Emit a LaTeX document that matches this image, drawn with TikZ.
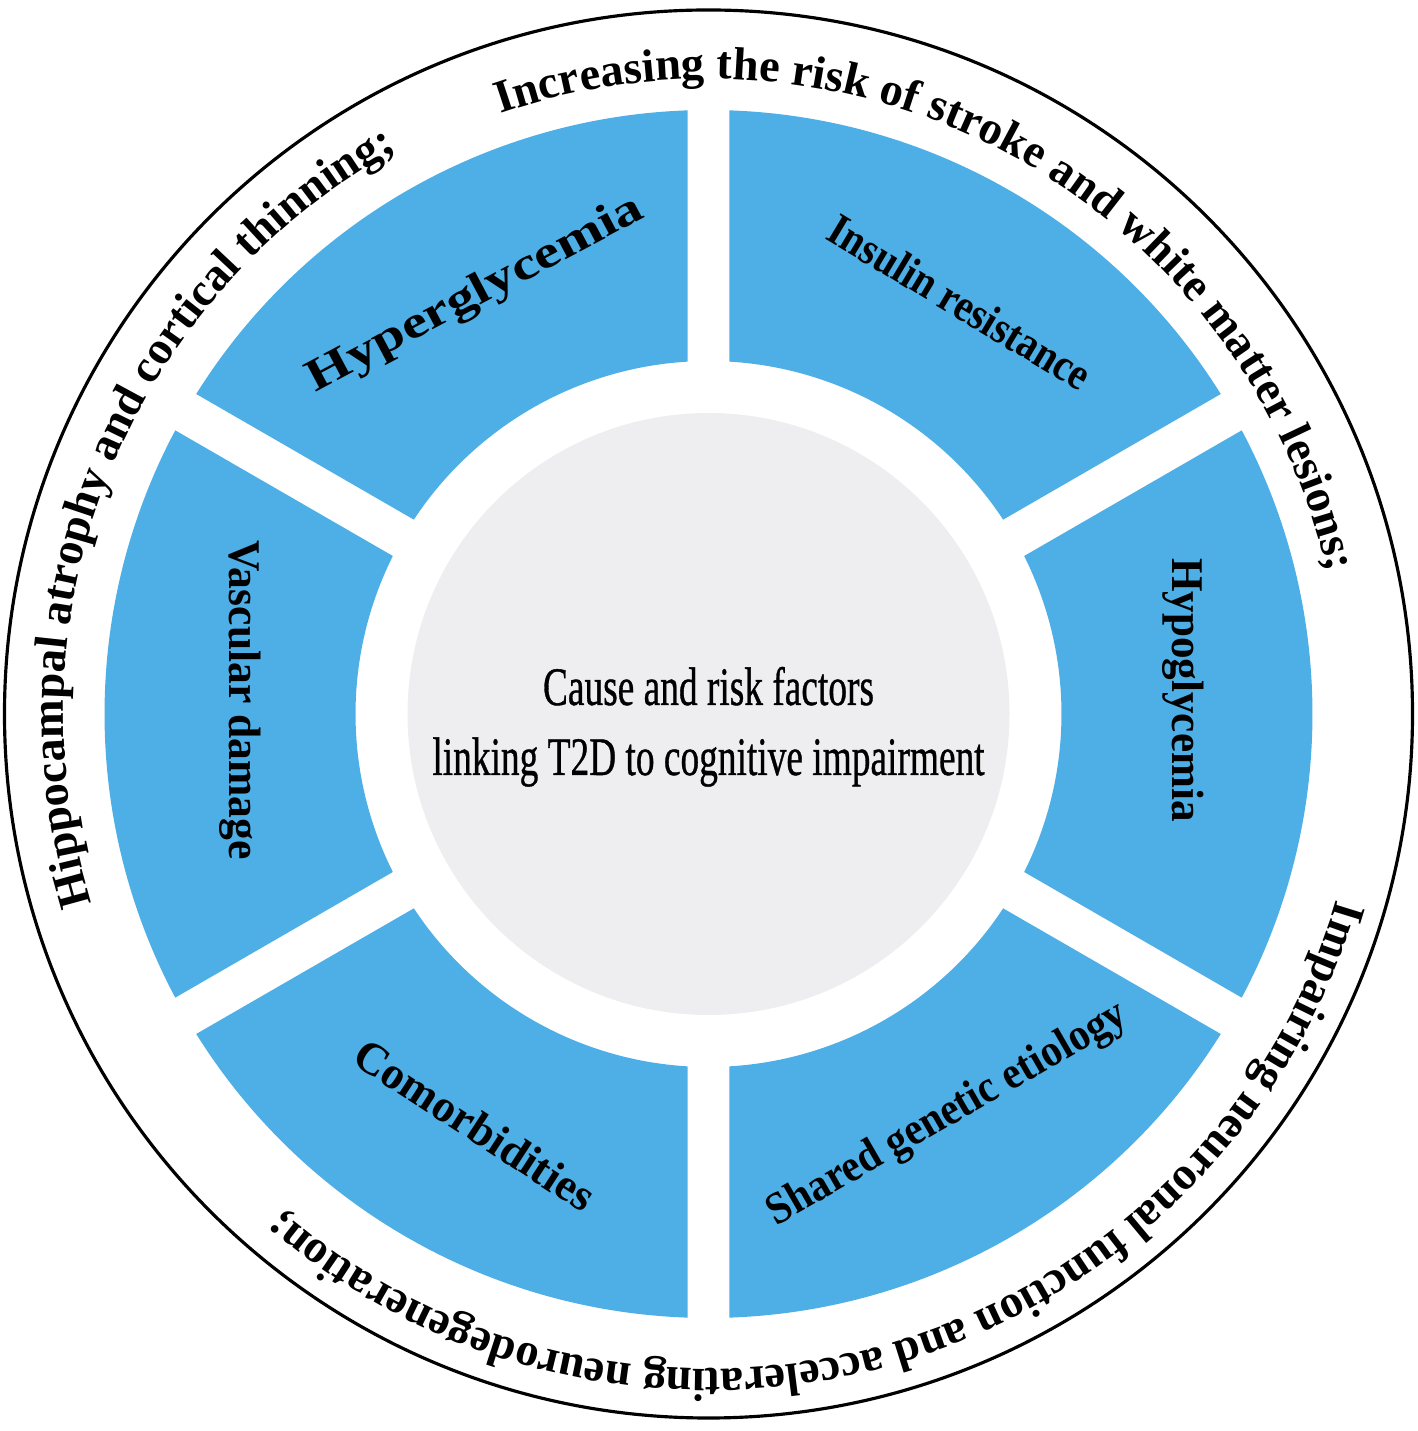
\documentclass[tikz,border=0pt]{standalone}
\usepackage{fontspec}
\setmainfont{Liberation Serif}
\newfontfamily\ctrfont{Liberation Serif}[FakeBold=0.8]
\usetikzlibrary{decorations.text}
\definecolor{segblue}{RGB}{77,175,230}
\definecolor{coregray}{RGB}{238,238,240}
\newcommand\arcfont{\fontsize{13.2}{15}\selectfont\bfseries}
\begin{document}
\begin{tikzpicture}[x=0.01cm,y=0.01cm,
  seg/.style={fill=segblue},
  lab/.style={font=\bfseries\fontsize{12.9}{15}\selectfont, inner sep=0pt},
  ctext/.style={font=\ctrfont\fontsize{15.4}{18}\selectfont, inner sep=0pt},
  arctext/.style={decorate, decoration={text along path, text align=center, text={|\arcfont|#1}}}]
\useasboundingbox (-708.5,-717) rectangle (708.5,714);
\draw[line width=0.9pt] (0,0) circle[radius=704];
\foreach \t in {0,60,...,300} {
  \fill[seg] ({\t-28.01}:604) arc[start angle={\t-28.01}, end angle={\t+28.01}, radius=604]
    -- ({\t+26.59}:353) arc[start angle={\t+26.59}, end angle={\t-26.59}, radius=353] -- cycle;
}
\fill[coregray] (0,0) circle[radius=301];
\node[ctext, anchor=base] (c1) at (0,9) {\scalebox{0.69}[1]{Cause and risk factors}};
\node[ctext, anchor=base] (c2) at (0,-61) {\scalebox{0.69}[1]{linking T2D to cognitive impairment}};
\node[lab, rotate=28] (hyper) at (-232.5,419) {\scalebox{1.27}[1]{Hyperglycemia}};
\node[lab, rotate=-31] (insulin) at (251.5,412) {\scalebox{0.88}[1]{Insulin resistance}};
\node[lab, rotate=-90] (hypo) at (474.5,24) {\scalebox{0.95}[1]{Hypoglycemia}};
\node[lab, rotate=-90] (vasc) at (-468.5,14) {\scalebox{0.96}[1]{Vascular damage}};
\node[lab, rotate=30] (shared) at (239.5,-401) {\scalebox{0.91}[1]{Shared genetic etiology}};
\node[lab, rotate=-33] (comorb) at (-233.5,-411) {\scalebox{1.0}[1]{Comorbidities}};
\path[arctext={Increasing the risk of stroke and white matter lesions;}] (130:635) arc[start angle=130, end angle=-8, radius=635];
\path[arctext={Hippocampal atrophy and cortical thinning;}] (230:645) arc[start angle=230, end angle=86, radius=645];
\path[arctext={Impairing neuronal function and accelerating neurodegeneration;}] (-3.6:655) arc[start angle=-3.6, end angle=-143.6, radius=655];
\end{tikzpicture}
\end{document}
